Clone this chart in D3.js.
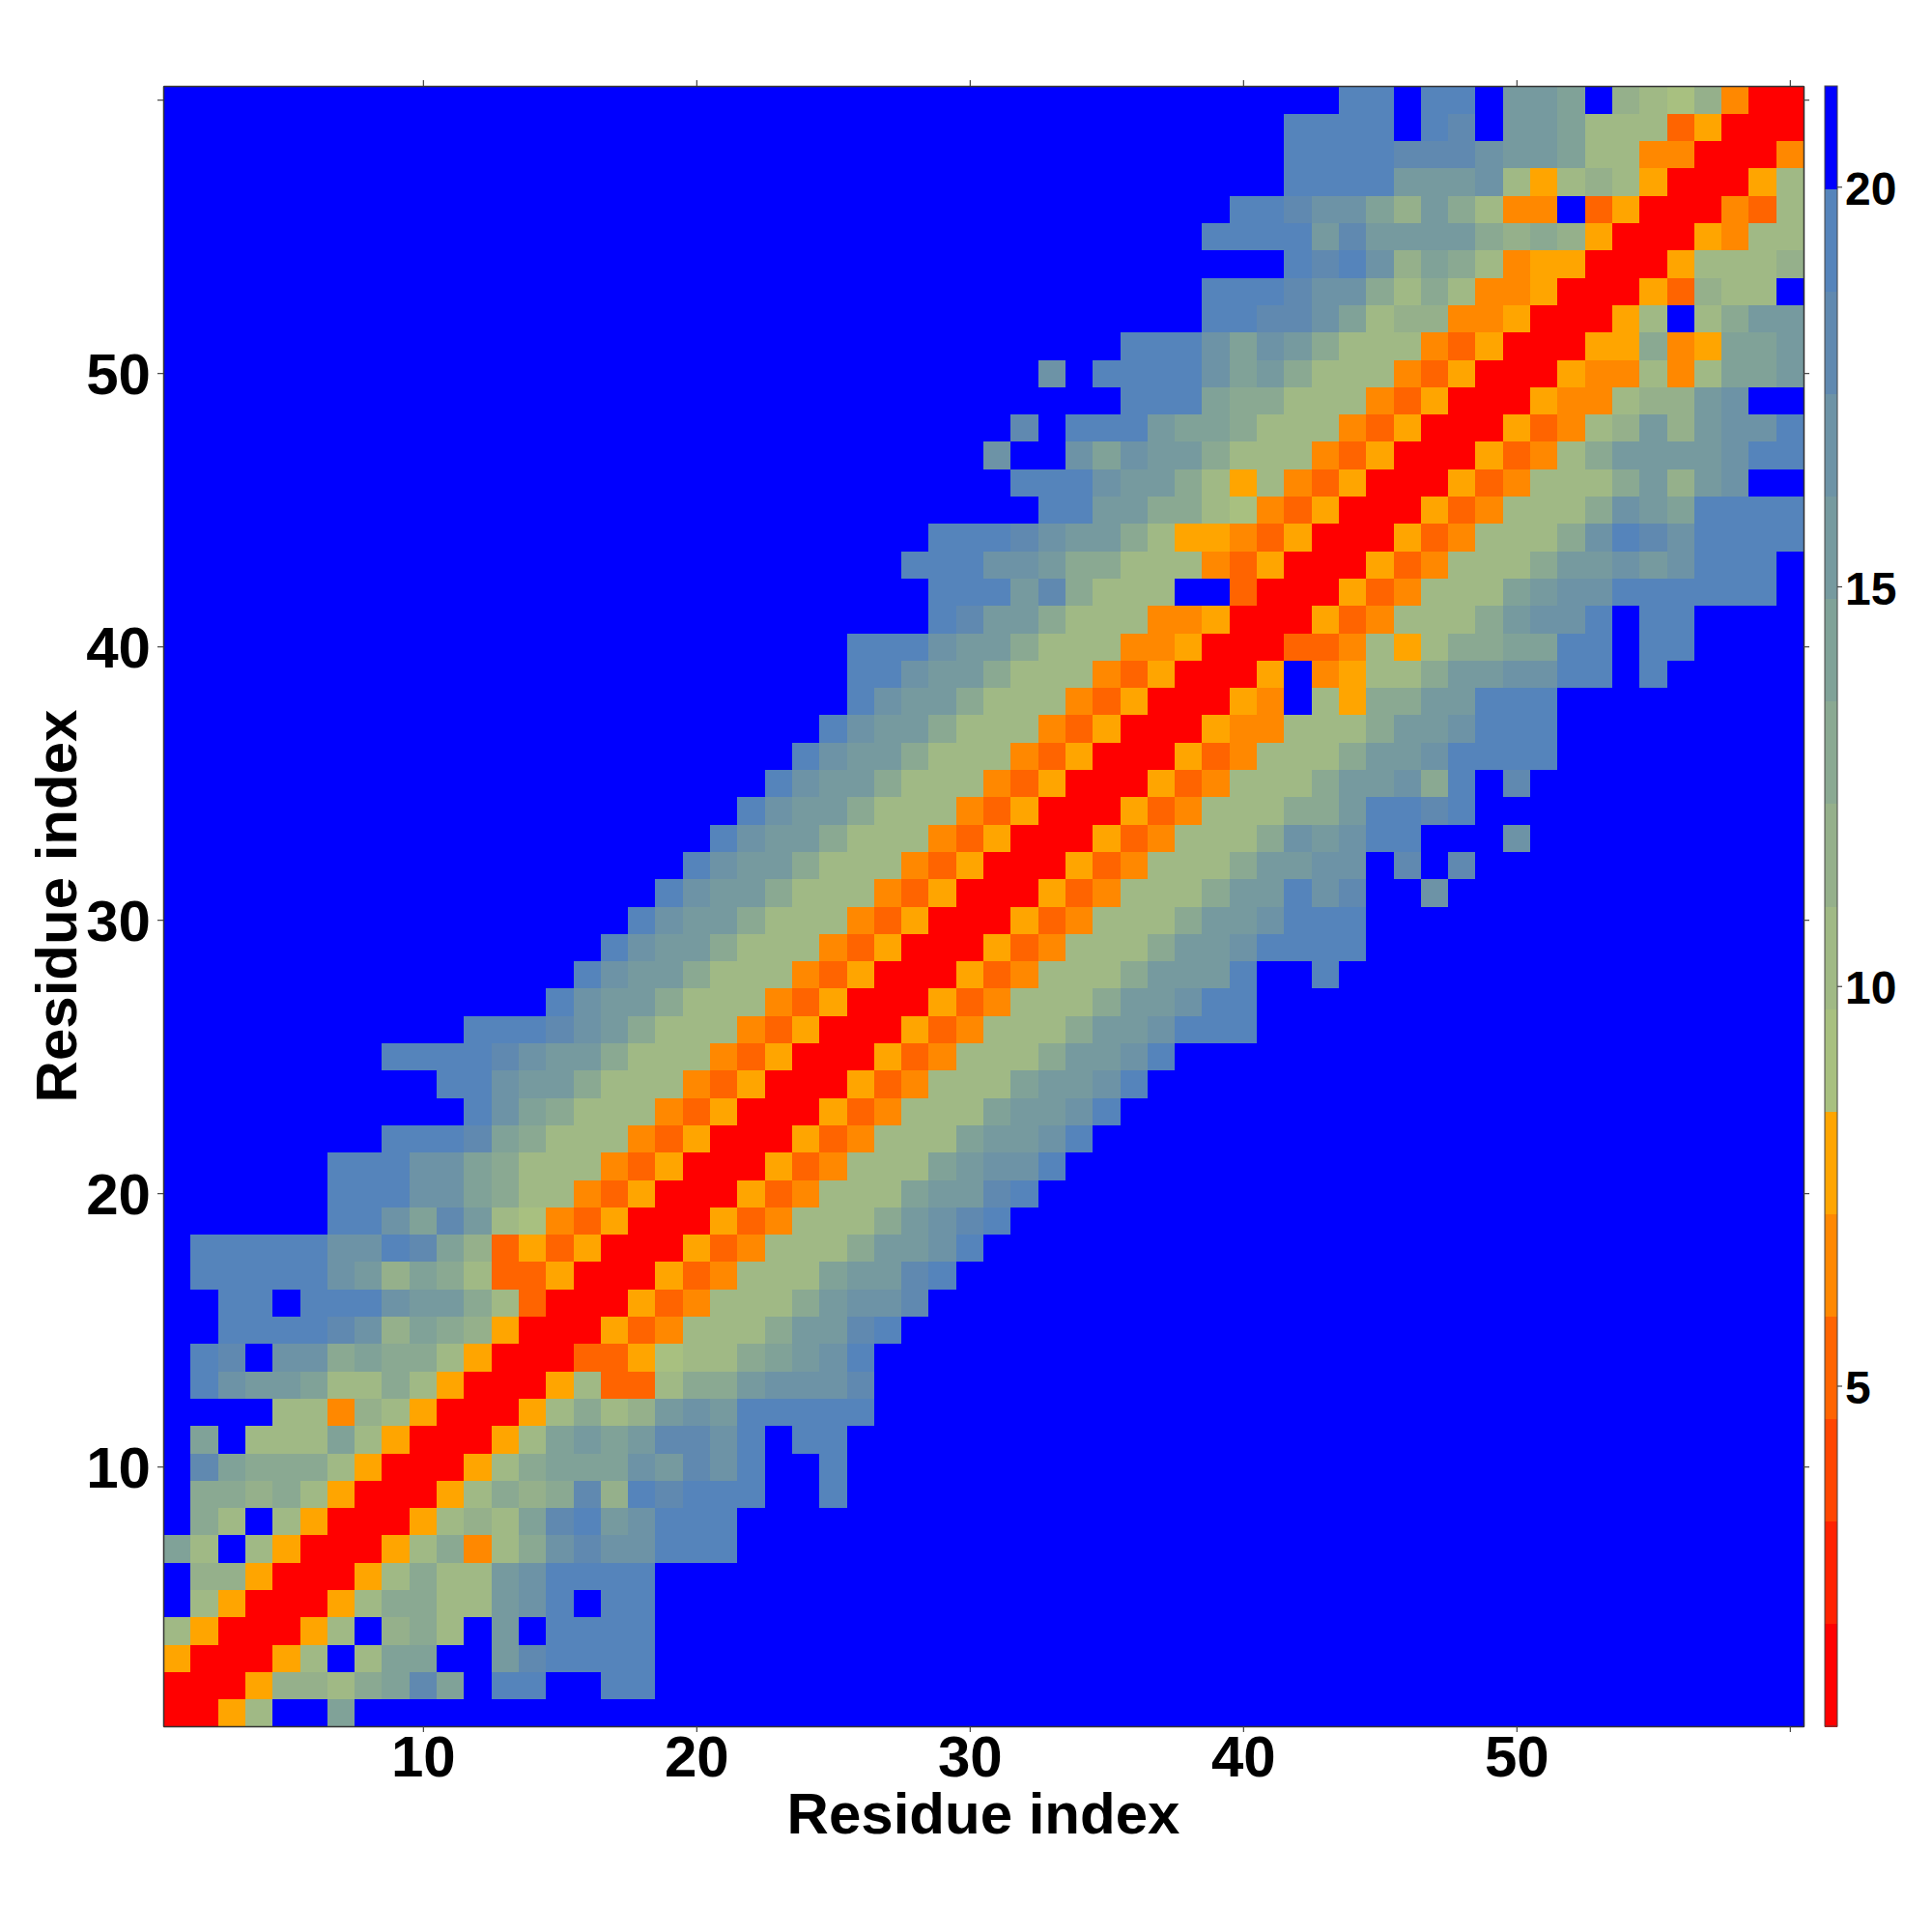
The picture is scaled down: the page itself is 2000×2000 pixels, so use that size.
<!DOCTYPE html>
<html>
<head>
<meta charset="utf-8">
<script src="https://cdn.jsdelivr.net/npm/d3@7"></script>
<style>
html,body{margin:0;padding:0;background:#fff}
svg{display:block}
text{font-family:"Liberation Sans",Arial,sans-serif;font-weight:bold;fill:#000}
</style>
</head>
<body>
<svg id="chart" width="2000" height="2000"></svg>
<script>
// Colour-band indices (hex digit per residue; f = beyond cut-off).
// Row 1 (bottom) first. leadingBlank = number of leading f cells, rows are padded with f to 60.
const leadingBlank = [
0,0,0,0,0,0,0,0,0,0,
0,4,1,1,2,2,1,1,6,6,
6,8,11,10,8,11,14,15,16,17,
18,19,20,21,22,23,24,25,25,25,
28,28,27,28,32,31,30,31,35,32,
35,38,38,41,38,39,41,41,41,43];
const bandRows = [
"0057ffa",
"00058879adafeeffee",
"500057f7aaffbdeeee",
"7500057f897fbfeeee",
"f75000579977bcefee",
"f88500057977bceeee",
"a7f75000579479cdcceee",
"f97f750005787adebceee",
"f99897500057989d8edeeeffe",
"fda99975000579aaacbdceffe",
"faf777a7500057ababddcefee",
"77487500057978bcbeeeee",
"ecbba779750005733799bcccd",
"edfcc9a99750003356779abce",
"eeeedc8a9850005347779bbde",
"eefeeecbb9730005347779bccd",
"eeeeecb8a97335000534777abbde",
"eeeeecceda835350005347779bbce",
"eecadb764350005347779bcde",
"eeecca977435000534777abbde",
"eeecca9777435000534777abcce",
"eeeda9777435000534777abbce",
"eca9777435000534777abbce",
"eecbb9777435000534777abbce",
"eeeedcbb97774350005347779bbce",
"eeedcb97774350005347779bbceee",
"ecbb97774350005347779bbcee",
"ecbb97774350005347779bbbeffe",
"ecbb97774350005347779bbceeee",
"ecbb97774350005347779bbceee",
"ecbb97774350005347779bbecdffc",
"ecbb97774350005347779bbccfdfd",
"ecbb97774350005347779cbceefffc",
"ecbb977743500053477799beede",
"ecbb97774350005347779bbc9efdf",
"ecbb97774350005347779bbceeee",
"ecbb97774350005447779bbceee",
"ecbb977743500054f7599bbeee",
"eecbb97774350005f45779bbcceefe",
"eeecbb977744500033475799aaeefee",
"edbb97774450005347779bccefee",
"eeebd9777ff3000534777abcceeeeee",
"eeeccb997774350005347779bbcbceee",
"eeedcbb97554350005347779cedceeee",
"eebb99764350005347779cbaeeee",
"eeecbb97574350005347779b8bcff",
"cffcacbb977743500053479bbbbcee",
"dfeeebaa977743500053478b8bcce",
"eeea99777435000544788bcff",
"cfeeeecab9777435000544747aab",
"eeecacb977743500055945aab",
"eeddca78844500057f79bb",
"eeedcc979744500053877f",
"edec8a9745500057778",
"eeeebdbbbb989850005477",
"eedcca8b9744f35000437",
"eeeebbbc75787500057",
"eeeedddcbba77440004",
"eeeefedfbba77735000",
"eefeefbbaf8768400"
];
// 16 bands, lowest distance first
const bandColors = ["#ff0000","#ff2200","#ff4600","#ff6400","#ff8800","#ffa500",
"#a8c080","#a0b985","#95b08b","#8aa992","#80a298","#769a9f","#6d93a6","#6089b0","#5584bb","#0000ff"];
const valueExtent = [0.74, 21.26];
const axisTicks = [10,20,30,40,50,60];
const axisLabels = ["10","20","30","40","50",""];
const barTicks = [5,10,15,20];
const xTitle = "Residue index";
const yTitle = "Residue index";

const bandWidth = (valueExtent[1]-valueExtent[0])/bandColors.length;
const bandValue = k => valueExtent[0]+(k+0.5)*bandWidth;
const color = d3.scaleQuantize().domain(valueExtent).range(bandColors);

const cells = [];
bandRows.forEach((row,ri)=>{
  const full = ("f".repeat(leadingBlank[ri])+row).padEnd(60,"f");
  for(let c=0;c<60;c++){
    cells.push({x:c+1,y:ri+1,v:bandValue(parseInt(full[c],16))});
  }
});

const svg = d3.select("#chart");
const x = d3.scaleLinear().domain([0.5,60.5]).range([169,1867]);
const y = d3.scaleLinear().domain([0.5,60.5]).range([1787,89]);
const cw = x(1.5)-x(0.5);

svg.append("g").attr("shape-rendering","crispEdges")
  .selectAll("rect").data(cells).join("rect")
  .attr("x",d=>x(d.x-0.5)).attr("y",d=>y(d.y+0.5))
  .attr("width",cw+0.5).attr("height",cw+0.5)
  .attr("fill",d=>color(d.v));

function styleAxis(g,fs){
  g.select(".domain").attr("stroke","#333").attr("stroke-width",1.5);
  g.selectAll(".tick line").attr("stroke","#444").attr("stroke-width",1.2);
  g.selectAll(".tick text").style("font-size",fs+"px").attr("font-family",null);
}
const tf = d => axisLabels[axisTicks.indexOf(d)];
const none = () => "";
svg.append("g").attr("transform",`translate(0,${y.range()[0]})`)
  .call(d3.axisBottom(x).tickValues(axisTicks).tickFormat(tf).tickSize(6).tickSizeOuter(0).tickPadding(3))
  .call(styleAxis,60);
svg.append("g").attr("transform",`translate(0,${y.range()[1]})`)
  .call(d3.axisTop(x).tickValues(axisTicks).tickFormat(none).tickSize(6).tickSizeOuter(0))
  .call(styleAxis,60);
svg.append("g").attr("transform",`translate(${x.range()[0]},0)`)
  .call(d3.axisLeft(y).tickValues(axisTicks).tickFormat(tf).tickSize(6).tickSizeOuter(0).tickPadding(7))
  .call(styleAxis,60)
  .call(g=>g.selectAll(".tick text").attr("dy","0.35em"));
svg.append("g").attr("transform",`translate(${x.range()[1]},0)`)
  .call(d3.axisRight(y).tickValues(axisTicks).tickFormat(none).tickSize(6).tickSizeOuter(0))
  .call(styleAxis,60);

svg.append("text").attr("x",1018).attr("y",1898).attr("text-anchor","middle").style("font-size","60px").text(xTitle);
svg.append("text").attr("transform","translate(79,938) rotate(-90)").attr("text-anchor","middle").style("font-size","60px").text(yTitle);

// colour bar
const barX = 1889, barW = 13;
const cb = d3.scaleLinear().domain(valueExtent).range([1787,89]);
svg.append("g").attr("shape-rendering","crispEdges")
  .selectAll("rect").data(bandColors).join("rect")
  .attr("x",barX).attr("width",barW)
  .attr("y",(d,i)=>cb(valueExtent[0]+(i+1)*bandWidth))
  .attr("height",cb(valueExtent[0])-cb(valueExtent[0]+bandWidth)+0.5)
  .attr("fill",d=>d);
svg.append("rect").attr("x",barX).attr("y",89).attr("width",barW).attr("height",1698)
  .attr("fill","none").attr("stroke","#444").attr("stroke-width",1);
svg.append("g").attr("transform",`translate(${barX+barW},0)`)
  .call(d3.axisRight(cb).tickValues(barTicks).tickFormat(d3.format("d")).tickSize(5).tickSizeOuter(0).tickPadding(3))
  .call(styleAxis,48)
  .call(g=>g.selectAll(".tick text").attr("dy","0.38em"))
  .call(g=>g.select(".domain").remove());
</script>
</body>
</html>
